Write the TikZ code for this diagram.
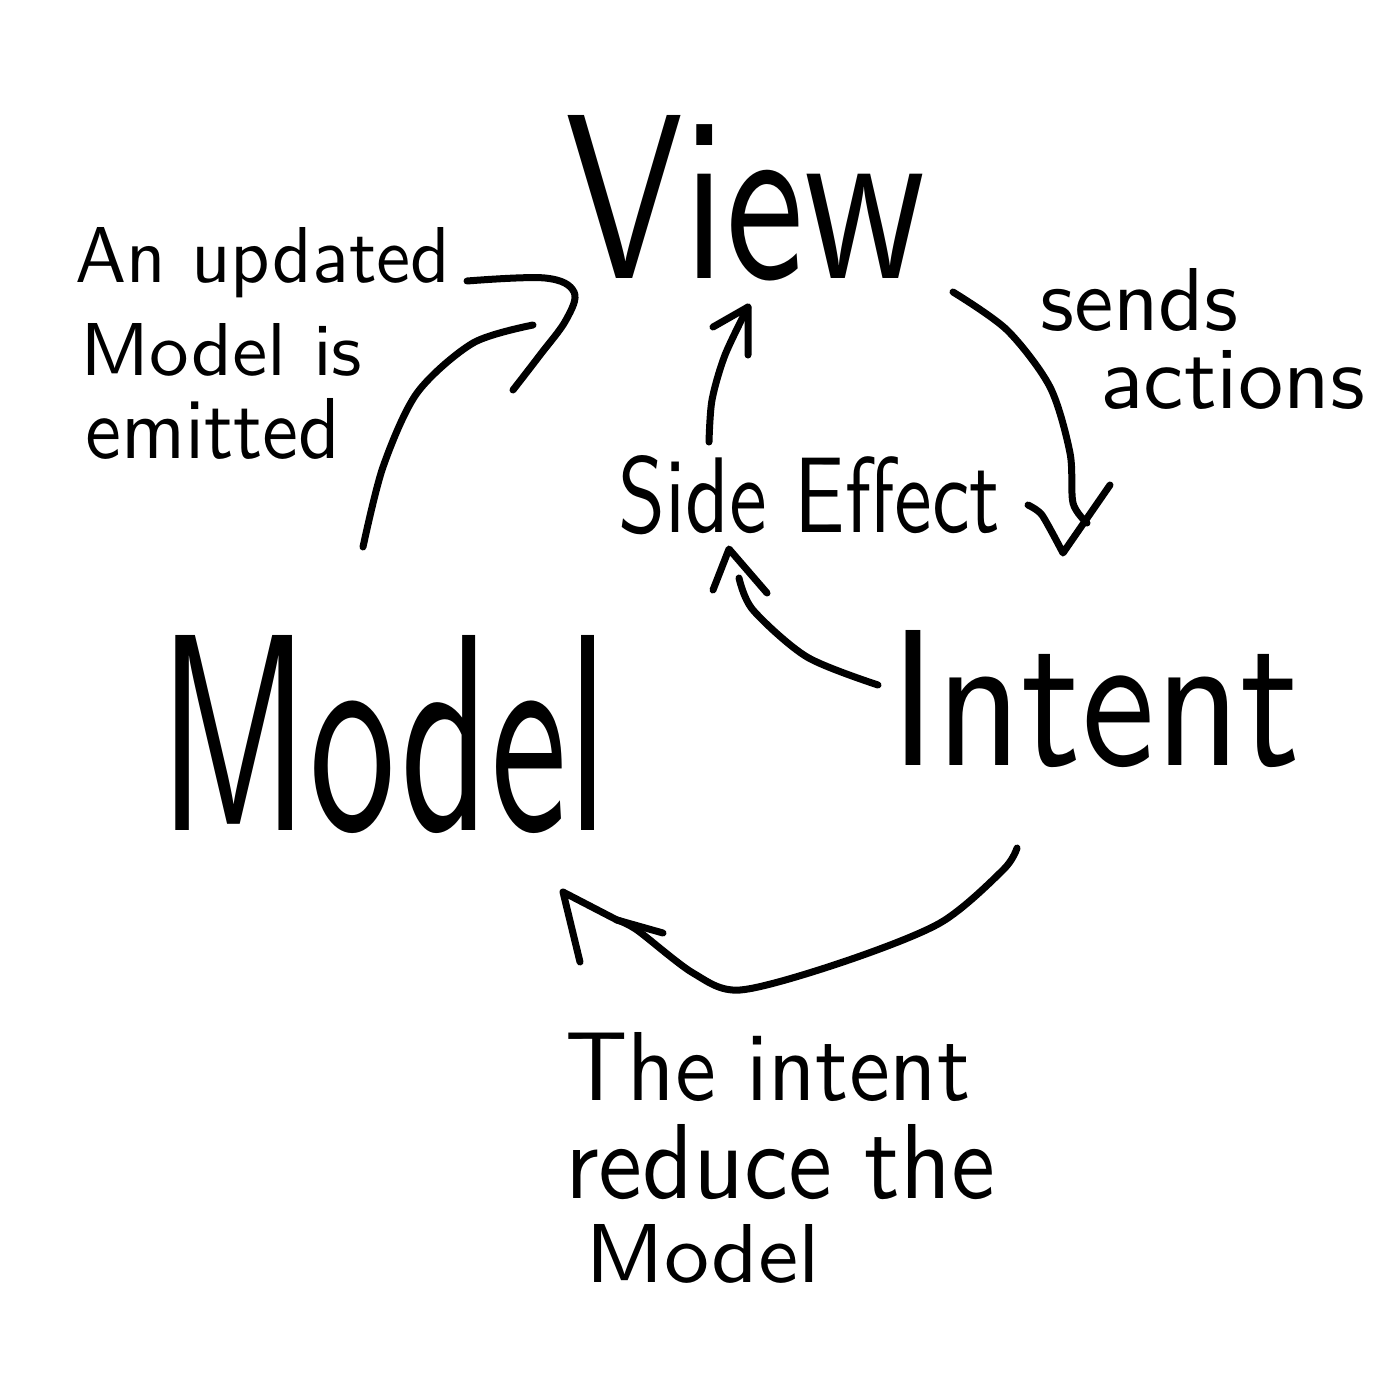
\documentclass[tikz,border=0pt]{standalone}
\usepackage{graphicx}
\newcommand\hwtext[3]{\resizebox{#1pt}{#2pt}{\sffamily #3}}
\begin{document}
\begin{tikzpicture}[x=1pt,y=-1pt,
  pen/.style={line width=7pt, line cap=round, line join=round},
  lbl/.style={anchor=base west, inner sep=0pt}]
\useasboundingbox[fill=white] (0,0) rectangle (1400,1400);

% main words
\node[lbl] (view)   at (565,278)  {\hwtext{360}{163}{View}};
\node[lbl] (model)  at (158,830)  {\hwtext{450}{195}{Model}};
\node[lbl] (intent) at (890,765)  {\hwtext{410}{135}{Intent}};
\node[lbl] (side)   at (618,532)  {\hwtext{382}{77}{Side Effect}};

% annotations
\node[lbl] (a1) at (75,282)   {\hwtext{375}{55}{An updated}};
\node[lbl] (a2) at (80,375)   {\hwtext{282}{52}{Model is}};
\node[lbl] (a3) at (85,458)   {\hwtext{255}{60}{emitted}};
\node[lbl] (s1) at (1040,330) {\hwtext{198}{62}{sends}};
\node[lbl] (s2) at (1100,408) {\hwtext{265}{58}{actions}};
\node[lbl] (r1) at (565,1100) {\hwtext{405}{68}{The intent}};
\node[lbl] (r2) at (565,1198) {\hwtext{430}{74}{reduce the}};
\node[lbl] (r3) at (585,1282) {\hwtext{235}{58}{Model}};

% Model -> View
\draw[pen] plot[smooth] coordinates {(363,547) (383,467) (417,393) (473,343) (533,325)};
\draw[pen] plot[smooth, tension=0.6] coordinates {(467,281) (545,278) (574,292) (566,320) (540,355) (513,390)};

% Side Effect -> View
\draw[pen] plot[smooth] coordinates {(709,442) (712,400) (725,355) (748,307)};
\draw[pen] (713,327) -- (748,307) -- (748,355);

% View -> Intent
\draw[pen] plot[smooth] coordinates {(953,292) (1007,330) (1050,387) (1070,453) (1073,503) (1087,523)};
\draw[pen] plot[smooth, tension=0.4] coordinates {(1028,505) (1042,515) (1063,553)} -- (1110,485);

% Intent -> Side Effect
\draw[pen] plot[smooth] coordinates {(878,685) (807,657) (753,610) (739,578)};
\draw[pen] (713,590) -- (729,549) -- (767,593);

% Intent -> Model
\draw[pen] plot[smooth] coordinates {(1017,848) (1003,870) (940,923) (840,963) (740,990) (693,973) (637,930) (617,920)};
\draw[pen] (580,962) -- (563,892) -- (617,920) -- (663,933);
\end{tikzpicture}
\end{document}
